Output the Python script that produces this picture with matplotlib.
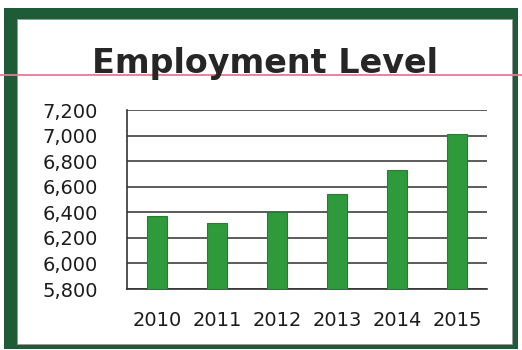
import matplotlib
matplotlib.use("Agg")
import matplotlib.pyplot as plt
from matplotlib.patches import Rectangle
from matplotlib.lines import Line2D
from matplotlib.ticker import FuncFormatter

# Employment level by year
years = ["2010", "2011", "2012", "2013", "2014", "2015"]
employment = [6370, 6320, 6400, 6540, 6730, 7010]
y_ticks = [5800, 6000, 6200, 6400, 6600, 6800, 7000, 7200]

W, H = 522, 350
fig = plt.figure(figsize=(W / 100, H / 100), dpi=100)
fig.patch.set_facecolor("white")

# dark green frame around a white panel (pixel box: left, top, right, bottom)
frame_green = "#1d5c36"
def px_rect(l, t, r, b, **kw):
    return Rectangle((l / W, 1 - b / H), (r - l) / W, (b - t) / H,
                     transform=fig.transFigure, **kw)

fig.patches.append(px_rect(4, 8, 518, 349, facecolor=frame_green,
                           edgecolor="none", zorder=0))
fig.patches.append(px_rect(17, 19, 512, 344, facecolor="white",
                           edgecolor="#9a9a9a", linewidth=0.6, zorder=0.5))

# thin pink rule running across the page behind the title
fig.lines.append(Line2D([0, 1], [1 - 75 / H, 1 - 75 / H], transform=fig.transFigure,
                        color="#e57a95", linewidth=1.3, zorder=1))

fig.text(265 / W, 1 - 73 / H, "Employment Level", ha="center", va="baseline",
         fontsize=24, fontweight="bold", color="#262626", family="DejaVu Sans",
         zorder=2)

ax = fig.add_axes([127 / W, 61 / H, 360 / W, 179 / H])
ax.set_zorder(3)
ax.set_facecolor("none")
x = range(len(years))
ax.bar(x, employment, width=0.33, color="#2e9a3b", edgecolor="#24802f",
       linewidth=0.8, zorder=3)

ax.set_ylim(5800, 7200)
ax.set_xlim(-0.5, len(years) - 0.5)
ax.set_yticks(y_ticks)
ax.yaxis.set_major_formatter(FuncFormatter(lambda v, p: f"{int(v):,}"))
ax.set_xticks(list(x))
ax.set_xticklabels(years)

ax.grid(axis="y", color="#3f3f3f", linewidth=1.2, zorder=1)
ax.set_axisbelow(True)
for side in ["top", "right"]:
    ax.spines[side].set_visible(False)
for side in ["left", "bottom"]:
    ax.spines[side].set_color("#333333")
    ax.spines[side].set_linewidth(1.2)

ax.tick_params(axis="y", length=0, pad=21, labelsize=14, labelcolor="#1c1c1c")
ax.tick_params(axis="x", length=0, pad=16, labelsize=14, labelcolor="#1c1c1c")

fig.savefig("out.png", dpi=100, facecolor=fig.get_facecolor())
